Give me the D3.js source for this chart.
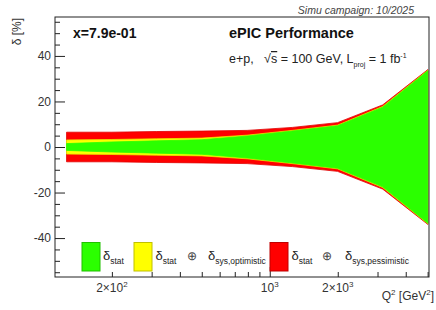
<!DOCTYPE html>
<html>
<head>
<meta charset="utf-8">
<script src="https://cdn.jsdelivr.net/npm/d3@7"></script>
<style>
body { margin: 0; background: #fff; }
text { font-family: "Liberation Sans", Arial, sans-serif; white-space: pre; }
</style>
</head>
<body>
<svg id="chart" width="436" height="310"></svg>
<script>
// Q2 bin centres (GeV^2) and relative uncertainties in %
var q2Points = [126, 200, 316, 501, 794, 1259, 1995, 3162, 5012];
var statErr = [1.5, 2.2, 2.7, 3.2, 4.8, 7.0, 9.3, 17.5, 33.5];
var optErr = [3.1, 3.3, 3.6, 3.9, 5.2, 7.3, 9.6, 17.8, 33.7];
var pessErr = [6.5, 6.5, 6.8, 7.0, 7.3, 8.6, 10.7, 18.5, 34.0];

var yTicks = [-40, -20, 0, 20, 40];
var yMinor = [-55, -50, -45, -35, -30, -25, -15, -10, -5, 5, 10, 15, 25, 30, 35, 45, 50, 55];
var xMinor = [200, 300, 400, 500, 600, 700, 800, 900, 2000, 3000, 4000, 5000];
var xMajor = [1000];
var xLabels = [{v: 200, m: "2\u00d710", e: "2"}, {v: 1000, m: "10", e: "3"}, {v: 2000, m: "2\u00d710", e: "3"}];

var bandNames = ["pess", "opt", "stat"];
var bandColors = {pess: "#ff0000", opt: "#ffff00", stat: "#2bff00"};
var bandEdges = {pess: "#e00000", opt: "#e6e600", stat: "#2bff00"};

var frame = {left: 55, right: 429, top: 17, bottom: 277};

var svg = d3.select("#chart");

var xScale = d3.scaleLog()
	.domain([112, 5070])
	.range([frame.left, frame.right]);

var yScale = d3.scaleLinear()
	.domain([-57.1, 57.1])
	.range([frame.bottom, frame.top]);

var bands = {
	pess: q2Points.map(function(q, i) { return {q: q, e: pessErr[i]}; }),
	opt: q2Points.map(function(q, i) { return {q: q, e: optErr[i]}; }),
	stat: q2Points.map(function(q, i) { return {q: q, e: statErr[i]}; })
};

var area = d3.area()
	.x(function(d) { return xScale(d.q); })
	.y0(function(d) { return yScale(-d.e); })
	.y1(function(d) { return yScale(d.e); });

svg.selectAll(".band")
	.data(bandNames)
	.enter().append("path")
		.attr("class", "band")
		.attr("d", function(d) { return area(bands[d]); })
		.attr("fill", function(d) { return bandColors[d]; })
		.attr("stroke", function(d) { return bandEdges[d]; })
		.attr("stroke-width", 0.8);

// frame
svg.append("rect")
	.attr("x", frame.left)
	.attr("y", frame.top)
	.attr("width", frame.right - frame.left)
	.attr("height", frame.bottom - frame.top)
	.attr("fill", "none")
	.attr("stroke", "#222")
	.attr("stroke-width", 1);

// y axis
var yAxis = svg.append("g")
	.attr("transform", "translate(" + frame.left + ",0)")
	.call(d3.axisLeft(yScale).tickValues(yTicks).tickSize(-10).tickSizeOuter(0).tickPadding(4)
		.tickFormat(function(d) { return d; }));
yAxis.select(".domain").remove();
yAxis.selectAll("text").attr("font-size", 12).attr("fill", "#333")
	.attr("font-family", "Liberation Sans, Arial, sans-serif");
yAxis.selectAll("line").attr("stroke", "#222");

var yMinorAxis = svg.append("g")
	.attr("transform", "translate(" + frame.left + ",0)")
	.call(d3.axisLeft(yScale).tickValues(yMinor).tickSize(-5).tickSizeOuter(0).tickFormat(""));
yMinorAxis.select(".domain").remove();
yMinorAxis.selectAll("line").attr("stroke", "#222");

// x axis
var xMinorAxis = svg.append("g")
	.attr("transform", "translate(0," + frame.bottom + ")")
	.call(d3.axisBottom(xScale).tickValues(xMinor).tickSize(-5).tickSizeOuter(0).tickFormat(""));
xMinorAxis.select(".domain").remove();
xMinorAxis.selectAll("line").attr("stroke", "#222");

var xMajorAxis = svg.append("g")
	.attr("transform", "translate(0," + frame.bottom + ")")
	.call(d3.axisBottom(xScale).tickValues(xMajor).tickSize(-10).tickSizeOuter(0).tickFormat(""));
xMajorAxis.select(".domain").remove();
xMajorAxis.selectAll("line").attr("stroke", "#222");

var xl = svg.selectAll(".xlabel")
	.data(xLabels)
	.enter().append("text")
		.attr("class", "xlabel")
		.attr("x", function(d) { return xScale(d.v); })
		.attr("y", 292)
		.attr("text-anchor", "middle")
		.attr("font-size", 12)
		.attr("fill", "#333");
xl.append("tspan").text(function(d) { return d.m; });
xl.append("tspan").attr("dy", -5).attr("font-size", 8).text(function(d) { return d.e; });

// axis titles
var xt = svg.append("text")
	.attr("x", 434)
	.attr("y", 300)
	.attr("text-anchor", "end")
	.attr("font-size", 12)
	.attr("fill", "#333");
xt.append("tspan").text("Q");
xt.append("tspan").attr("dy", -5).attr("font-size", 8).text("2");
xt.append("tspan").attr("dy", 5).text(" [GeV");
xt.append("tspan").attr("dy", -5).attr("font-size", 8).text("2");
xt.append("tspan").attr("dy", 5).text("]");

svg.append("text")
	.attr("transform", "translate(21,18) rotate(-90)")
	.attr("text-anchor", "end")
	.attr("font-size", 12)
	.attr("fill", "#333")
	.text("\u03b4 [%]");

// header texts
svg.append("text")
	.attr("x", 414).attr("y", 14)
	.attr("text-anchor", "end")
	.attr("font-size", 10.5)
	.attr("font-style", "italic")
	.attr("fill", "#444")
	.text("Simu campaign: 10/2025");

svg.append("text")
	.attr("x", 73).attr("y", 38)
	.attr("font-size", 14)
	.attr("font-weight", "bold")
	.attr("fill", "#111")
	.text("x=7.9e-01");

svg.append("text")
	.attr("x", 229).attr("y", 38)
	.attr("font-size", 14.5)
	.attr("font-weight", "bold")
	.attr("fill", "#111")
	.text("ePIC Performance");

var info = svg.append("text")
	.attr("x", 229).attr("y", 63)
	.attr("font-size", 12.5)
	.attr("fill", "#222");
info.append("tspan").text("e+p,   \u221a");
info.append("tspan").attr("text-decoration", "overline").text("s");
info.append("tspan").text(" = 100 GeV, L");
info.append("tspan").attr("dy", 4).attr("font-size", 7).text("proj");
info.append("tspan").attr("dy", -4).text(" = 1 fb");
info.append("tspan").attr("dy", -5).attr("font-size", 7).text("-1");

// legend
var legendItems = [
	{key: "stat", box: 82, parts: [{x: 103, d: "stat"}]},
	{key: "opt", box: 134, parts: [{x: 155.5, d: "stat"}, {x: 192, o: true}, {x: 208, d: "sys,optimistic"}]},
	{key: "pess", box: 270, parts: [{x: 291.5, d: "stat"}, {x: 327, o: true}, {x: 345, d: "sys,pessimistic"}]}
];

var leg = svg.selectAll(".legend")
	.data(legendItems)
	.enter().append("g")
		.attr("class", "legend");

leg.append("rect")
	.attr("x", function(d) { return d.box; })
	.attr("y", 242.5)
	.attr("width", 18)
	.attr("height", 28.5)
	.attr("fill", function(d) { return bandColors[d.key]; })
	.attr("stroke", function(d) { return d3.color(bandColors[d.key]).darker(0.8); })
	.attr("stroke-width", 1);

leg.each(function(item) {
	var g = d3.select(this);
	item.parts.forEach(function(p) {
		var t = g.append("text")
			.attr("x", p.x)
			.attr("y", 260)
			.attr("fill", "#222");
		if (p.o) {
			t.attr("font-size", 12).attr("text-anchor", "middle").attr("fill", "#444").text("\u2295");
		} else {
			t.append("tspan").attr("font-size", 13).text("\u03b4");
			t.append("tspan").attr("dy", 3.5).attr("font-size", 8.5).text(p.d);
		}
	});
});
</script>
</body>
</html>
